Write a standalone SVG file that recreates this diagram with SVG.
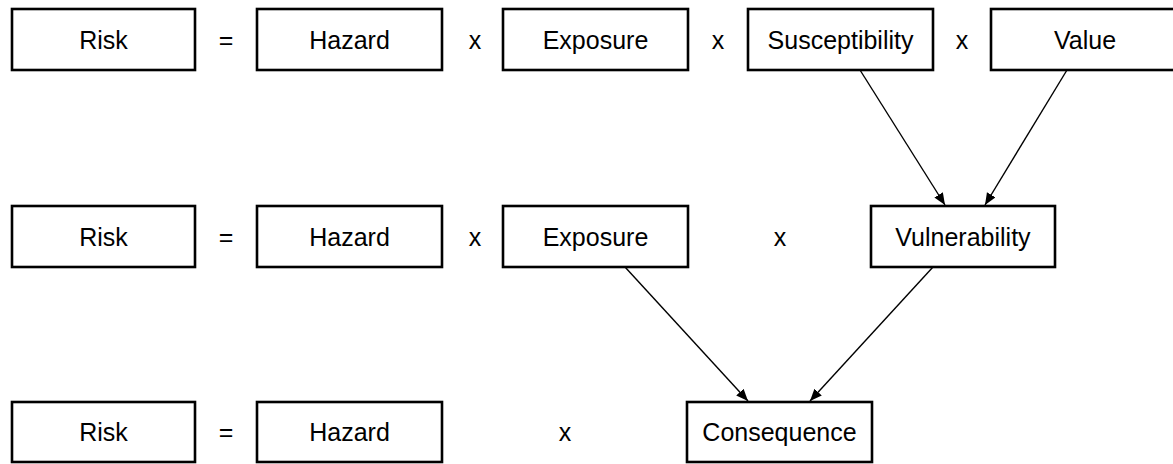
<svg xmlns="http://www.w3.org/2000/svg" width="1173" height="464" viewBox="0 0 1173 464">
<style>
.box{fill:#fff;stroke:#000;stroke-width:2.6}
.t{font-family:"Liberation Sans",Arial,sans-serif;font-size:25px;fill:#000;text-anchor:middle}
.c{stroke:#000;stroke-width:1.4;fill:none;marker-end:url(#ah)}
</style>
<defs>
<marker id="ah" markerUnits="userSpaceOnUse" markerWidth="14" markerHeight="12" refX="12" refY="5" orient="auto">
<path d="M0,0 L12,5 L0,10 z" fill="#000"/>
</marker>
</defs>
<rect width="1173" height="464" fill="#fff"/>
<g id="connectors">
<line class="c" x1="860" y1="70" x2="945" y2="205"/>
<line class="c" x1="1067" y1="70" x2="985" y2="205"/>
<line class="c" x1="625" y1="267" x2="748" y2="401"/>
<line class="c" x1="933" y1="267" x2="810" y2="401"/>
</g>
<g id="ops" class="t">
<text x="226" y="48.5">=</text>
<text x="475" y="48.5">x</text>
<text x="718" y="48.5">x</text>
<text x="962" y="48.5">x</text>
<text x="226" y="245.5">=</text>
<text x="475" y="245.5">x</text>
<text x="780" y="245.5">x</text>
<text x="226" y="441">=</text>
<text x="565" y="441">x</text>
</g>
<g id="risk1"><rect class="box" x="12" y="9" width="183" height="61"/><text class="t" x="103.5" y="48.5">Risk</text></g>
<g id="hazard1"><rect class="box" x="257" y="9" width="185" height="61"/><text class="t" x="349.5" y="48.5">Hazard</text></g>
<g id="exposure1"><rect class="box" x="503" y="9" width="185" height="61"/><text class="t" x="595.5" y="48.5">Exposure</text></g>
<g id="susceptibility"><rect class="box" x="748" y="9" width="185" height="61"/><text class="t" x="840.5" y="48.5">Susceptibility</text></g>
<g id="value"><rect class="box" x="991" y="9" width="190" height="61"/><text class="t" x="1085" y="48.5">Value</text></g>
<g id="risk2"><rect class="box" x="12" y="206" width="183" height="61"/><text class="t" x="103.5" y="245.5">Risk</text></g>
<g id="hazard2"><rect class="box" x="257" y="206" width="185" height="61"/><text class="t" x="349.5" y="245.5">Hazard</text></g>
<g id="exposure2"><rect class="box" x="503" y="206" width="185" height="61"/><text class="t" x="595.5" y="245.5">Exposure</text></g>
<g id="vulnerability"><rect class="box" x="871" y="206" width="184" height="61"/><text class="t" x="963" y="245.5">Vulnerability</text></g>
<g id="risk3"><rect class="box" x="12" y="402" width="183" height="60"/><text class="t" x="103.5" y="441">Risk</text></g>
<g id="hazard3"><rect class="box" x="257" y="402" width="185" height="60"/><text class="t" x="349.5" y="441">Hazard</text></g>
<g id="consequence"><rect class="box" x="687" y="402" width="185" height="60"/><text class="t" x="779.5" y="441">Consequence</text></g>
</svg>
